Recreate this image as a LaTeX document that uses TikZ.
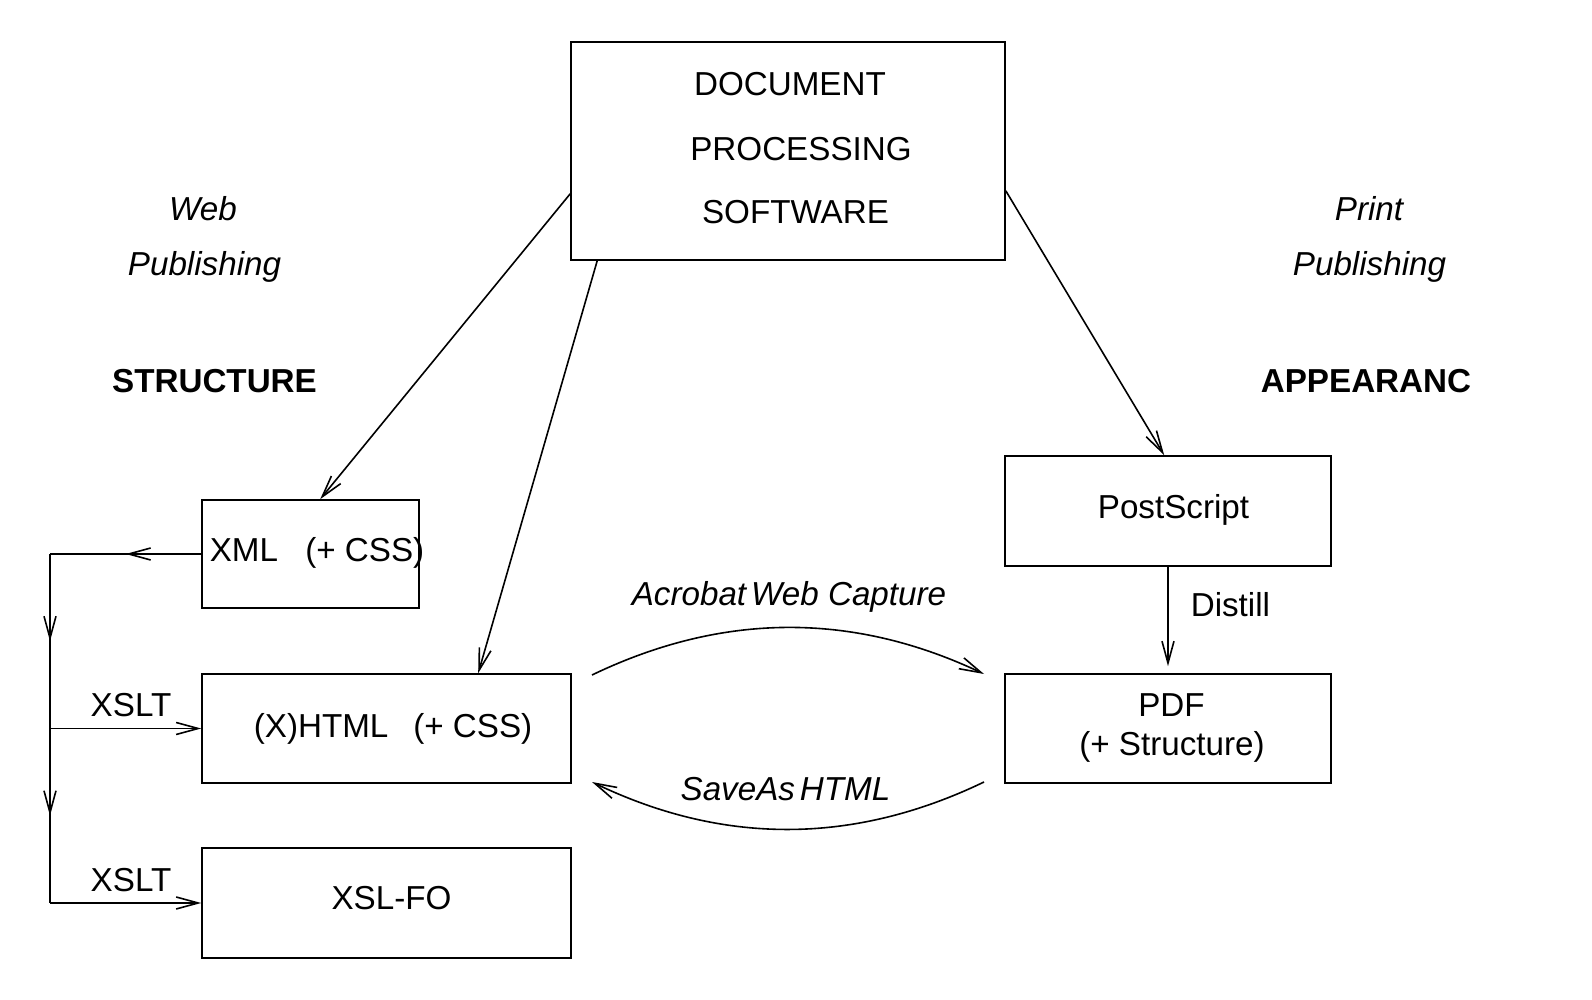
\documentclass[tikz,border=0pt]{standalone}
\usepackage{fontspec}
\setmainfont{Liberation Sans}
\usetikzlibrary{arrows.meta,decorations.markings,calc}
\begin{document}
\begin{tikzpicture}[x=0.5pt,y=-0.5pt, line width=0.8pt,
  box/.style={draw, rectangle, inner sep=0pt},
  txt/.style={inner sep=0pt, anchor=base, font=\fontsize{16.6}{20}\selectfont},
  itxt/.style={txt, font=\fontsize{16.6}{20}\selectfont\itshape},
  btxt/.style={txt, font=\fontsize{16.6}{20}\selectfont\bfseries},
  tip/.style={-{Straight Barb[length=11pt,width=6pt]}},
  midarrow/.style={postaction={decorate,decoration={markings,mark=at position 0.5 with {\arrow{Straight Barb[length=11pt,width=6pt]}}}}}
]
\useasboundingbox (0,0) rectangle (1592,1000);

% boxes
\node[box, minimum width=217pt, minimum height=109pt] (doc) at (788,151) {};
\node[box, minimum width=108.5pt, minimum height=54pt] (xml) at (310.5,554) {};
\node[box, minimum width=184.5pt, minimum height=54.5pt] (html) at (386.5,728.5) {};
\node[box, minimum width=184.5pt, minimum height=55pt] (xslfo) at (386.5,903) {};
\node[box, minimum width=163pt, minimum height=55pt] (ps) at (1168,511) {};
\node[box, minimum width=163pt, minimum height=54.5pt] (pdf) at (1168,728.5) {};

% box texts
\node[txt] (t1) at (790,96) {DOCUMENT};
\node[txt] (t2) at (801,161) {PROCESSING};
\node[txt] (t3) at (795.5,224) {SOFTWARE};
\node[txt, anchor=base west] (txml) at (209,561) {XML\hspace{0.82em}(+ CSS)};
\node[txt, anchor=base west] (thtml) at (253,737) {(X)HTML\hspace{0.75em}(+ CSS)};
\node[txt] (tfo) at (391.5,909) {XSL-FO};
\node[txt] (tps) at (1173.5,518) {PostScript};
\node[txt] (tpdf) at (1171.5,716) {PDF};
\node[txt] (tpdf2) at (1172,755) {(+ Structure)};

% side labels
\node[itxt] (web) at (203,221) {Web};
\node[itxt] (publ) at (204.5,276) {Publishing};
\node[btxt] (struct) at (214.5,393) {STRUCTURE};
\node[itxt] (print) at (1369,221) {Print};
\node[itxt] (pubr) at (1369.5,276) {Publishing};
\node[btxt] (appear) at (1366,393) {APPEARANC};
\node[txt] (x1) at (131,716) {XSLT};
\node[txt] (x2) at (131,891) {XSLT};
\node[txt, anchor=base west] (dist) at (1190,616) {Distill};
\node[itxt] (awc) at (789,605) {Acrobat\hspace{0.15em}Web Capture};
\node[itxt] (sah) at (785.5,800) {SaveAs\hspace{0.15em}HTML};

% coordinates
\coordinate (d1) at ($(doc.south west)+(0,-67)$);
\coordinate (d2) at ($(doc.south west)+(27,0)$);
\coordinate (d3) at ($(doc.south east)+(0,-70)$);
\coordinate (xmlin) at ($(xml.north west)+(119,0)$);
\coordinate (htmlin) at ($(html.north west)+(277,0)$);
\coordinate (psin) at ($(ps.north west)+(160,0)$);
\coordinate (pdfin) at ($(pdf.north)+(0,-7)$);
\coordinate (c1) at (50,554);
\coordinate (c2) at (50,728.5);
\coordinate (c3) at (50,903);
\coordinate (w1) at (592,675);
\coordinate (w2) at (984,674);
\coordinate (w3) at (984,782);
\coordinate (w4) at (592,782);

% connectors
\draw[tip] (d1) -- (xmlin);
\draw[tip] (d2) -- (htmlin);
\draw[tip] (d3) -- (psin);
\draw[tip] (ps.south) -- (pdfin);
\draw[midarrow] (xml.west) -- (c1);
\draw[midarrow] (c1) -- (c2);
\draw[midarrow] (c2) -- (c3);
\draw[tip] (c2) -- (html.west);
\draw[tip] (c3) -- (xslfo.west);
\draw[tip] (w1) .. controls (723,612) and (853,612) .. (w2);
\draw[tip] (w3) .. controls (853,845) and (723,845) .. (w4);
\end{tikzpicture}
\end{document}
